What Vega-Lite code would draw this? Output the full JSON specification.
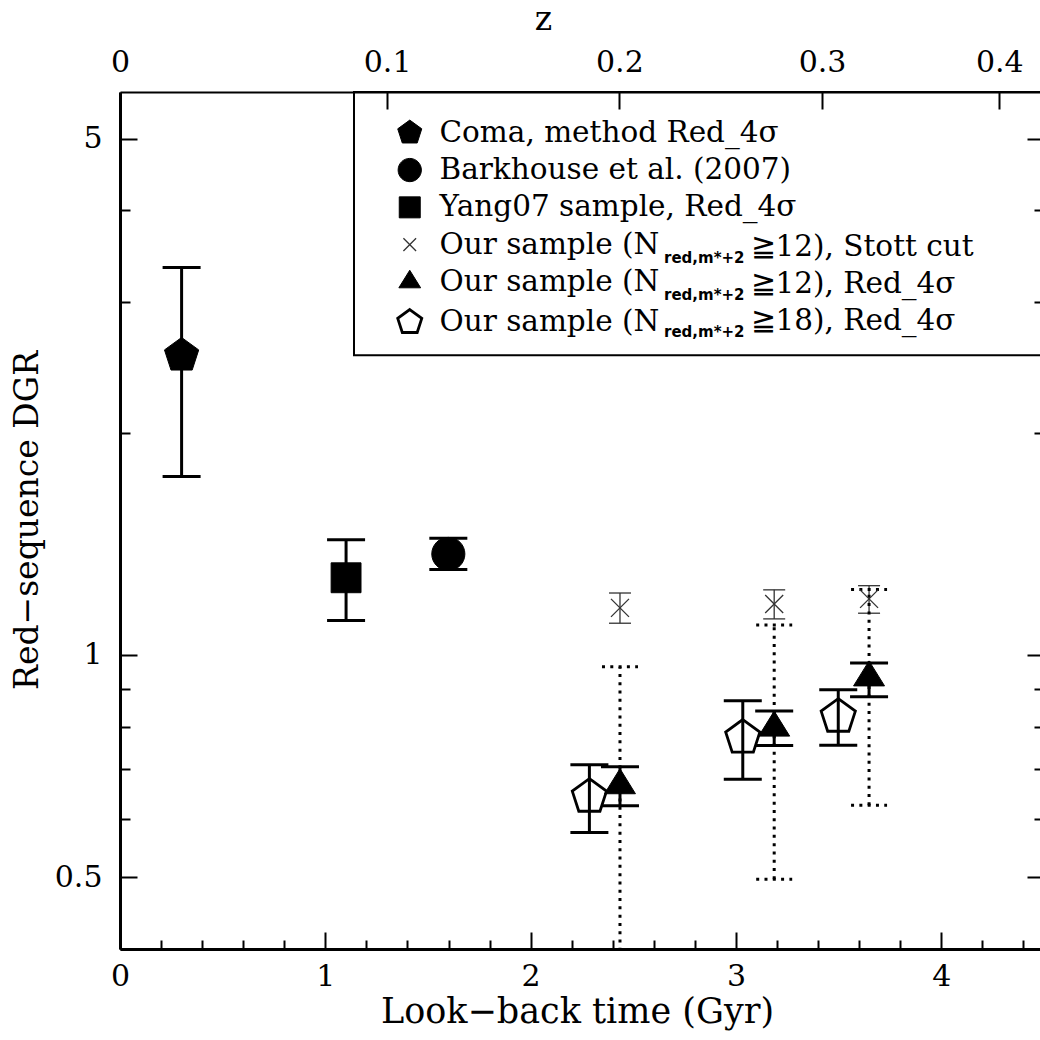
{
  "$schema": "https://vega.github.io/schema/vega-lite/v6.json",
  "width": 924,
  "height": 857,
  "autosize": {"type": "none"},
  "padding": {"left": 120, "top": 92, "right": 0, "bottom": 91},
  "background": "white",
  "config": {
    "view": {"stroke": null},
    "font": "DejaVu Serif",
    "axis": {"labelFont": "DejaVu Serif", "titleFont": "DejaVu Serif", "labelColor": "black", "titleColor": "black", "tickColor": "black", "domainColor": "black", "grid": false, "titleFontWeight": "normal"}
  },
  "datasets": {
    "pts": [
      {"series": "coma", "t": 0.300, "v": 2.543, "lo": 1.744, "hi": 3.344},
      {"series": "yang", "t": 1.101, "v": 1.272, "lo": 1.113, "hi": 1.432},
      {"series": "bark", "t": 1.599, "v": 1.370, "lo": 1.305, "hi": 1.439},
      {"series": "stott", "t": 2.435, "v": 1.158, "lo": 1.104, "hi": 1.213},
      {"series": "stott", "t": 3.186, "v": 1.172, "lo": 1.119, "hi": 1.225},
      {"series": "stott", "t": 3.648, "v": 1.191, "lo": 1.139, "hi": 1.241},
      {"series": "tri", "t": 2.435, "v": 0.666, "lo": 0.625, "hi": 0.706},
      {"series": "tri", "t": 3.186, "v": 0.797, "lo": 0.754, "hi": 0.840},
      {"series": "tri", "t": 3.648, "v": 0.932, "lo": 0.878, "hi": 0.975},
      {"series": "pent", "t": 2.286, "v": 0.643, "lo": 0.575, "hi": 0.710},
      {"series": "pent", "t": 3.033, "v": 0.773, "lo": 0.679, "hi": 0.867},
      {"series": "pent", "t": 3.498, "v": 0.825, "lo": 0.755, "hi": 0.897}
    ],
    "dot": [
      {"t": 2.435, "lo": 0.368, "hi": 0.964},
      {"t": 3.186, "lo": 0.497, "hi": 1.098},
      {"t": 3.648, "lo": 0.626, "hi": 1.226}
    ]
  },
  "data": {"name": "pts"},
  "layer": [
    {
      "transform": [{"filter": "datum.series != 'stott'"}],
      "mark": {"type": "rule", "strokeWidth": 3, "color": "black"},
      "encoding": {
        "x": {"field": "t", "type": "quantitative", "scale": {"domain": [0, 4.5], "nice": false, "zero": false},
          "axis": {"orient": "bottom", "title": "Look−back time (Gyr)",
            "values": [0, 0.2, 0.4, 0.6, 0.8, 1, 1.2, 1.4, 1.6, 1.8, 2, 2.2, 2.4, 2.6, 2.8, 3, 3.2, 3.4, 3.6, 3.8, 4, 4.2, 4.4],
            "labelExpr": "datum.value % 1 == 0 ? '' + datum.value : ''",
            "tickSize": {"condition": {"test": "datum.value % 1 == 0", "value": -17}, "value": -9},
            "tickWidth": 2, "domainWidth": 3, "labelFontSize": 30, "labelPadding": 29, "labelFlush": false, "labelOverlap": false,
            "titleFontSize": 35, "titleX": 457, "titleY": 73, "titleBaseline": "alphabetic"}},
        "y": {"field": "lo", "type": "quantitative", "scale": {"type": "log", "domain": [0.4, 5.78], "nice": false},
          "axis": {"orient": "left", "title": "Red−sequence DGR",
            "values": [0.4, 0.5, 0.6, 0.7, 0.8, 0.9, 1, 2, 3, 4, 5],
            "labelExpr": "datum.value == 0.5 || datum.value == 1 || datum.value == 5 ? '' + datum.value : ''",
            "tickSize": {"condition": {"test": "datum.value == 0.5 || datum.value == 1 || datum.value == 5", "value": -17}, "value": -10},
            "tickWidth": 2, "domainWidth": 3, "labelFontSize": 30, "labelPadding": 35, "labelFlush": false, "labelOverlap": false,
            "titleFontSize": 33, "titleX": -83, "titleY": 428, "titleAngle": 270, "titleBaseline": "alphabetic"}},
        "y2": {"field": "hi"}
      }
    },
    {
      "transform": [{"filter": "datum.series == 'stott'"}],
      "mark": {"type": "rule", "strokeWidth": 1.3, "color": "#333333"},
      "encoding": {
        "x": {"field": "t", "type": "quantitative", "scale": {"domain": [0, 4.5], "nice": false, "zero": false},
          "axis": {"orient": "top", "title": "z",
            "values": [0, 1.301, 2.432, 3.419, 4.282],
            "labelExpr": "datum.value < 0.5 ? '0' : datum.value < 2 ? '0.1' : datum.value < 3 ? '0.2' : datum.value < 4 ? '0.3' : '0.4'",
            "tickSize": -17, "tickWidth": 2, "domainWidth": 2, "labelFontSize": 30, "labelPadding": 32, "labelFlush": false, "labelOverlap": false,
            "titleFontSize": 33, "titleX": 423, "titleY": -63, "titleBaseline": "alphabetic"}},
        "y": {"field": "lo", "type": "quantitative", "scale": {"type": "log", "domain": [0.4, 5.78], "nice": false},
          "axis": {"orient": "right", "title": null, "labels": false,
            "values": [0.4, 0.5, 0.6, 0.7, 0.8, 0.9, 1, 2, 3, 4, 5],
            "tickSize": {"condition": {"test": "datum.value == 0.5 || datum.value == 1 || datum.value == 5", "value": -17}, "value": -10},
            "tickWidth": 2, "domainWidth": 2}},
        "y2": {"field": "hi"}
      }
    },
    {
      "transform": [{"filter": "datum.series != 'stott'"}, {"fold": ["lo", "hi"], "as": ["end", "cv"]}],
      "mark": {"type": "point", "shape": "M-1,0L1,0", "size": 1444, "filled": false, "strokeWidth": 3, "color": "black", "opacity": 1},
      "encoding": {
        "x": {"field": "t", "type": "quantitative", "scale": {"domain": [0, 4.5], "nice": false, "zero": false}, "axis": null},
        "y": {"field": "cv", "type": "quantitative", "scale": {"type": "log", "domain": [0.4, 5.78], "nice": false}, "axis": null}
      }
    },
    {
      "transform": [{"filter": "datum.series == 'stott'"}, {"fold": ["lo", "hi"], "as": ["end", "cv"]}],
      "mark": {"type": "point", "shape": "M-1,0L1,0", "size": 484, "filled": false, "strokeWidth": 1.3, "color": "#333333", "opacity": 1},
      "encoding": {
        "x": {"field": "t", "type": "quantitative", "scale": {"domain": [0, 4.5], "nice": false, "zero": false}, "axis": null},
        "y": {"field": "cv", "type": "quantitative", "scale": {"type": "log", "domain": [0.4, 5.78], "nice": false}, "axis": null}
      }
    },
    {
      "data": {"name": "dot"},
      "mark": {"type": "rule", "strokeWidth": 3, "strokeDash": [3, 5.3], "color": "black", "clip": true},
      "encoding": {
        "x": {"field": "t", "type": "quantitative", "scale": {"domain": [0, 4.5], "nice": false, "zero": false}, "axis": null},
        "y": {"field": "lo", "type": "quantitative", "scale": {"type": "log", "domain": [0.4, 5.78], "nice": false}, "axis": null},
        "y2": {"field": "hi"}
      }
    },
    {
      "data": {"name": "dot"},
      "transform": [{"fold": ["lo", "hi"], "as": ["end", "cv"]}],
      "mark": {"type": "point", "shape": "M-1,0L1,0", "size": 1296, "filled": false, "strokeWidth": 3, "strokeDash": [3, 5.3], "color": "black", "opacity": 1, "clip": true},
      "encoding": {
        "x": {"field": "t", "type": "quantitative", "scale": {"domain": [0, 4.5], "nice": false, "zero": false}, "axis": null},
        "y": {"field": "cv", "type": "quantitative", "scale": {"type": "log", "domain": [0.4, 5.78], "nice": false}, "axis": null}
      }
    },
    {
      "mark": {"type": "point", "size": 1296, "filled": true, "opacity": 1},
      "encoding": {
        "x": {"field": "t", "type": "quantitative", "scale": {"domain": [0, 4.5], "nice": false, "zero": false}, "axis": null},
        "y": {"field": "v", "type": "quantitative", "scale": {"type": "log", "domain": [0.4, 5.78], "nice": false}, "axis": null},
        "shape": {"field": "series", "type": "nominal",
          "scale": {"domain": ["coma", "bark", "yang", "stott", "tri", "pent"],
            "range": [
              "M0,-1L0.951,-0.309L0.588,0.809L-0.588,0.809L-0.951,-0.309Z",
              "M-0.92,0A0.92,0.92,0,1,0,0.92,0A0.92,0.92,0,1,0,-0.92,0Z",
              "M-0.83,-0.83L0.83,-0.83L0.83,0.83L-0.83,0.83Z",
              "M-0.5,-0.5L0.5,0.5M0.5,-0.5L-0.5,0.5",
              "M0,-0.926L0.86,0.463L-0.86,0.463Z",
              "M0,-1L0.951,-0.309L0.588,0.809L-0.588,0.809L-0.951,-0.309Z"
            ]},
          "legend": {"title": null, "orient": "none", "legendX": 275, "legendY": 26, "padding": 0, "symbolSize": 640, "symbolStrokeColor": "black",
            "labelFont": "DejaVu Serif", "labelFontSize": 29.5, "labelColor": "black", "labelOffset": 15, "labelLimit": 2000, "rowPadding": 6.3,
            "labelExpr": "datum.label == 'coma' ? 'Coma, method Red_4σ' : datum.label == 'bark' ? 'Barkhouse et al. (2007)' : datum.label == 'yang' ? 'Yang07 sample, Red_4σ' : 'Our sample (N'"}},
        "fill": {"field": "series", "type": "nominal",
          "scale": {"domain": ["coma", "bark", "yang", "stott", "tri", "pent"], "range": ["black", "black", "black", "black", "black", "transparent"]}},
        "stroke": {"field": "series", "type": "nominal",
          "scale": {"domain": ["coma", "bark", "yang", "stott", "tri", "pent"], "range": ["black", "black", "black", "#333333", "black", "black"]}},
        "strokeWidth": {"field": "series", "type": "nominal",
          "scale": {"type": "ordinal", "domain": ["coma", "bark", "yang", "stott", "tri", "pent"], "range": [1, 1, 1, 1.3, 1, 2.8]}}
      }
    },
    {
      "data": {"values": [{}]},
      "mark": {"type": "rect", "fill": "transparent", "stroke": "black", "strokeWidth": 2},
      "encoding": {
        "x": {"datum": 1.1396, "type": "quantitative", "scale": {"domain": [0, 4.5], "nice": false, "zero": false}, "axis": null},
        "x2": {"datum": 4.5},
        "y": {"datum": 2.545, "type": "quantitative", "scale": {"type": "log", "domain": [0.4, 5.78], "nice": false}, "axis": null},
        "y2": {"datum": 5.78}
      }
    },
    {
      "transform": [{"filter": "datum.series == 'stott' || datum.series == 'tri' || datum.series == 'pent'"}],
      "mark": {"type": "point", "opacity": 0, "size": 10},
      "encoding": {
        "x": {"field": "t", "type": "quantitative", "scale": {"domain": [0, 4.5], "nice": false, "zero": false}, "axis": null},
        "y": {"field": "v", "type": "quantitative", "scale": {"type": "log", "domain": [0.4, 5.78], "nice": false}, "axis": null},
        "color": {"field": "series", "type": "nominal",
          "scale": {"domain": ["stott", "tri", "pent"], "range": ["transparent", "transparent", "transparent"]},
          "legend": {"title": null, "orient": "none", "legendX": 517, "legendY": 152, "padding": 0, "symbolSize": 640, "symbolOpacity": 0,
            "labelFont": "DejaVu Sans", "labelFontSize": 15, "labelFontWeight": "bold", "labelColor": "black", "labelOffset": 0, "rowPadding": 10.3,
            "labelExpr": "'red,m*+2'"}}
      }
    },
    {
      "transform": [{"filter": "datum.series == 'stott' || datum.series == 'tri' || datum.series == 'pent'"}],
      "mark": {"type": "point", "size": 10},
      "encoding": {
        "x": {"field": "t", "type": "quantitative", "scale": {"domain": [0, 4.5], "nice": false, "zero": false}, "axis": null},
        "y": {"field": "v", "type": "quantitative", "scale": {"type": "log", "domain": [0.4, 5.78], "nice": false}, "axis": null},
        "opacity": {"field": "series", "type": "nominal",
          "scale": {"type": "ordinal", "domain": ["pent", "stott", "tri"], "range": [0, 0, 0]},
          "legend": {"title": null, "orient": "none", "legendX": 601, "legendY": 140, "padding": 0, "symbolSize": 640, "symbolOpacity": 0,
            "values": ["stott", "tri", "pent"],
            "labelFont": "DejaVu Serif", "labelFontSize": 29.5, "labelColor": "black", "labelOpacity": 1, "labelOffset": 0, "labelLimit": 2000, "rowPadding": 6.3,
            "labelExpr": "datum.label == 'stott' ? '≧12), Stott cut' : datum.label == 'tri' ? '≧12), Red_4σ' : '≧18), Red_4σ'"}}
      }
    }
  ],
  "resolve": {"axis": {"x": "independent", "y": "independent"}}
}
